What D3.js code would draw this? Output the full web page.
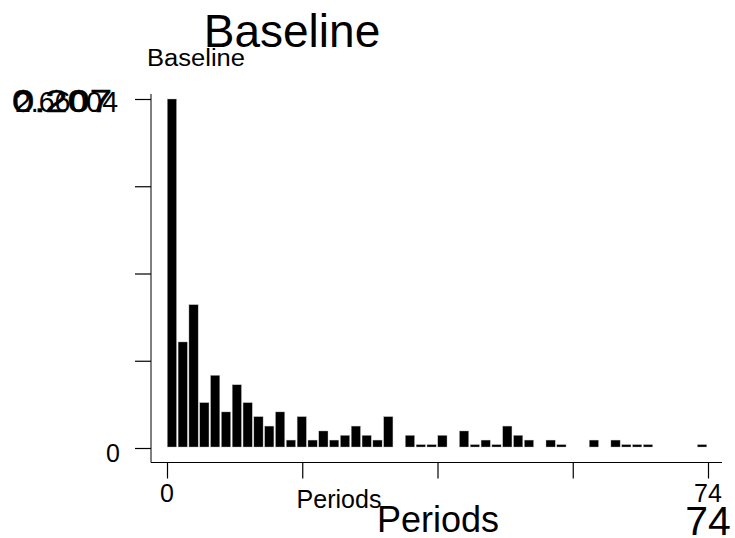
<!DOCTYPE html>
<html>
<head>
<meta charset="utf-8">
<script src="https://cdn.jsdelivr.net/npm/d3@7"></script>
<style>
  body { margin: 0; background: #fff; }
  svg { display: block; font-family: "Liberation Sans", Arial, sans-serif; }
</style>
</head>
<body>
<svg width="735" height="538"></svg>
<script>
// histogram of Periods, 50 bins over 0..74, density heights
var binWidth = 1.48;
var density = [
  0.207, 0.0629, 0.0850, 0.0269, 0.0431, 0.0214, 0.0375, 0.0269, 0.0186, 0.0130,
  0.0214, 0.0047, 0.0186, 0.0047, 0.0101, 0.0047, 0.0075, 0.0130, 0.0075, 0.0047,
  0.0186, 0, 0.0075, 0.0020, 0.0020, 0.0075, 0, 0.0101, 0.0020, 0.0047,
  0.0020, 0.0130, 0.0075, 0.0047, 0, 0.0047, 0.0020, 0, 0, 0.0047,
  0, 0.0047, 0.0020, 0.0020, 0.0020, 0, 0, 0, 0, 0.0020
];
var xTicks = [0, 18.5, 37, 55.5, 74];
var xTickLabels = ["0", "", "", "", "74"];
var yTicks = [0, 0.05175, 0.1035, 0.15525, 0.207];
var yTickLabels = ["0", "", "", "", "0.207"];

var svg = d3.select("svg");

var x = d3.scaleLinear().domain([0, 74]).range([167, 708]);
var y = d3.scaleLinear().domain([0, 0.207]).range([448, 99]);

var bins = density.map(function(d, i) {
  return { x0: i * binWidth, x1: (i + 1) * binWidth, value: d };
});

// bars
svg.append("g")
  .selectAll("rect")
  .data(bins.filter(function(d) { return d.value > 0; }))
  .enter().append("rect")
    .attr("x", function(d) { return x(d.x0) + 0.3; })
    .attr("width", function(d) { return x(d.x1) - x(d.x0) - 1.6; })
    .attr("y", function(d) { return y(d.value); })
    .attr("height", function(d) { return y(0) - 1 - y(d.value); })
    .attr("fill", "#000")
    .attr("stroke", "#bbb")
    .attr("stroke-width", 0.4);

// y axis
var yAxis = svg.append("g")
    .attr("transform", "translate(151,0)")
    .call(d3.axisLeft(y).tickValues(yTicks).tickSize(16).tickFormat(""));
yAxis.select(".domain").attr("d", "M0,94V462.5");
yAxis.selectAll("line").attr("stroke", "#000").attr("stroke-width", 1.2);

// x axis
var xAxis = svg.append("g")
    .attr("transform", "translate(0,462.5)")
    .call(d3.axisBottom(x).tickValues(xTicks).tickSize(16).tickFormat(""));
xAxis.select(".domain").attr("d", "M151,0H722");
xAxis.selectAll("line").attr("stroke", "#000").attr("stroke-width", 1.2);

// tick labels
svg.append("text")
    .attr("x", 120).attr("y", 462)
    .attr("text-anchor", "end")
    .attr("font-size", 25)
    .text(yTickLabels[0]);
svg.append("text")
    .attr("x", 12).attr("y", 112)
    .attr("font-size", 32)
    .attr("textLength", 100)
    .attr("lengthAdjust", "spacingAndGlyphs")
    .attr("stroke", "#000").attr("stroke-width", 0.5)
    .text(yTickLabels[4]);
svg.append("text")
    .attr("x", 15).attr("y", 112)
    .attr("font-size", 29)
    .attr("textLength", 103)
    .attr("lengthAdjust", "spacingAndGlyphs")
    .text("2.66004");

svg.append("text")
    .attr("x", x(xTicks[0])).attr("y", 502)
    .attr("text-anchor", "middle")
    .attr("font-size", 25)
    .text(xTickLabels[0]);
svg.append("text")
    .attr("x", x(xTicks[4])).attr("y", 502)
    .attr("text-anchor", "middle")
    .attr("font-size", 25)
    .text(xTickLabels[4]);
svg.append("text")
    .attr("x", x(xTicks[4])).attr("y", 535)
    .attr("text-anchor", "middle")
    .attr("font-size", 41)
    .text(xTickLabels[4]);

// axis titles
svg.append("text")
    .attr("x", 339).attr("y", 508)
    .attr("text-anchor", "middle")
    .attr("font-size", 25)
    .text("Periods");
svg.append("text")
    .attr("x", 438).attr("y", 532)
    .attr("text-anchor", "middle")
    .attr("font-size", 36)
    .text("Periods");

// titles
svg.append("text")
    .attr("x", 292).attr("y", 47)
    .attr("text-anchor", "middle")
    .attr("font-size", 46)
    .text("Baseline");
svg.append("text")
    .attr("x", 147).attr("y", 66)
    .attr("font-size", 23)
    .attr("textLength", 98)
    .attr("lengthAdjust", "spacingAndGlyphs")
    .text("Baseline");
</script>
</body>
</html>
